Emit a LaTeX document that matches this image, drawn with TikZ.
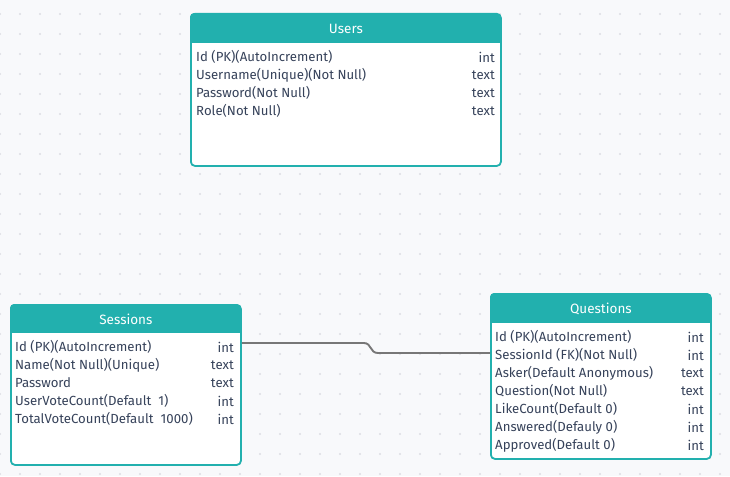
\documentclass[tikz,border=0pt]{standalone}
\usepackage{fontspec}
\setmainfont{Fira Sans}
\definecolor{bgc}{HTML}{F8F9FB}
\definecolor{dotc}{HTML}{DCDDE3}
\definecolor{tealc}{HTML}{22B0AE}
\definecolor{txtc}{HTML}{36425A}
\definecolor{linec}{HTML}{777777}
\tikzset{
  tablebox/.style={draw=tealc, line width=1.8pt, rounded corners=4pt, minimum width=#1, inner sep=0pt, anchor=north west},
  headtxt/.style={text=white, font=\fontsize{13.5}{15}\selectfont, inner sep=0pt},
  fieldtxt/.style={text=txtc, font=\fontsize{13.2}{15}\selectfont, inner sep=0pt, anchor=west},
  typetxt/.style={text=txtc, font=\fontsize{13.2}{15}\selectfont, inner sep=0pt, anchor=east},
  conn/.style={draw=linec, line width=1.9pt},
}
\newcommand{\erdbox}[7]{% name, x, y, w, h, headerh, title
  \begin{scope}
    \clip[rounded corners=4pt] (#2,#3) rectangle ++(#4,#5);
    \fill[white] (#2,#3) rectangle ++(#4,#5);
    \fill[tealc] (#2,#3) rectangle ++(#4,#6);
  \end{scope}
  \node[tablebox=#4, minimum height=#5] (#1) at (#2,#3) {};
  \node[headtxt] (#1head) at ($(#1.north)+(0,#6/2+0.5)$) {#7};
}
\usetikzlibrary{calc}
\begin{document}
\begin{tikzpicture}[x=1pt,y=-1pt]
\fill[bgc] (0,0) rectangle (730,476);
\useasboundingbox (0,0) rectangle (730,476);
\foreach \i in {0,...,36} {
  \foreach \j in {0,...,23} {
    \fill[dotc] (\i*20,14+\j*20) circle (1.1pt);
  }
}
% Users
\erdbox{users}{190}{13}{310}{152}{30}{Users}
\node[fieldtxt] (u1) at (196,57) {Id (PK)(AutoIncrement)};
\node[typetxt] (u1t) at (495,57) {int};
\node[fieldtxt] (u2) at (196,75) {Username(Unique)(Not Null)};
\node[typetxt] (u2t) at (495,75) {text};
\node[fieldtxt] (u3) at (196,93) {Password(Not Null)};
\node[typetxt] (u3t) at (495,93) {text};
\node[fieldtxt] (u4) at (196,111) {Role(Not Null)};
\node[typetxt] (u4t) at (495,111) {text};
% Sessions
\erdbox{sessions}{10}{304}{230}{160}{29}{Sessions}
\node[fieldtxt] (s1) at (15,347) {Id (PK)(AutoIncrement)};
\node[typetxt] (s1t) at (234,347) {int};
\node[fieldtxt] (s2) at (15,365) {Name(Not Null)(Unique)};
\node[typetxt] (s2t) at (234,365) {text};
\node[fieldtxt] (s3) at (15,383) {Password};
\node[typetxt] (s3t) at (234,383) {text};
\node[fieldtxt] (s4) at (15,401) {UserVoteCount(Default\ \ 1)};
\node[typetxt] (s4t) at (234,401) {int};
\node[fieldtxt] (s5) at (15,419) {TotalVoteCount(Default\ \ 1000)};
\node[typetxt] (s5t) at (234,419) {int};
% Questions
\erdbox{questions}{490}{293}{220}{165}{30}{Questions}
\node[fieldtxt] (q1) at (495,337) {Id (PK)(AutoIncrement)};
\node[typetxt] (q1t) at (704,337) {int};
\node[fieldtxt] (q2) at (495,355) {SessionId (FK)(Not Null)};
\node[typetxt] (q2t) at (704,355) {int};
\node[fieldtxt] (q3) at (495,373) {Asker(Default Anonymous)};
\node[typetxt] (q3t) at (704,373) {text};
\node[fieldtxt] (q4) at (495,391) {Question(Not Null)};
\node[typetxt] (q4t) at (704,391) {text};
\node[fieldtxt] (q5) at (495,409) {LikeCount(Default 0)};
\node[typetxt] (q5t) at (704,409) {int};
\node[fieldtxt] (q6) at (495,427) {Answered(Defauly 0)};
\node[typetxt] (q6t) at (704,427) {int};
\node[fieldtxt] (q7) at (495,445) {Approved(Default 0)};
\node[typetxt] (q7t) at (704,445) {int};
% connector
\coordinate (cs) at ($(sessions.north east)+(0,39)$);
\coordinate (ce) at ($(questions.north west)+(0,60)$);
\draw[conn] (cs) -- ($(cs)+(122,0)$) .. controls ($(cs)+(130,0)$) and ($(cs)+(128,10)$) .. ($(cs)+(136,10)$) -- (ce);
\end{tikzpicture}
\end{document}
